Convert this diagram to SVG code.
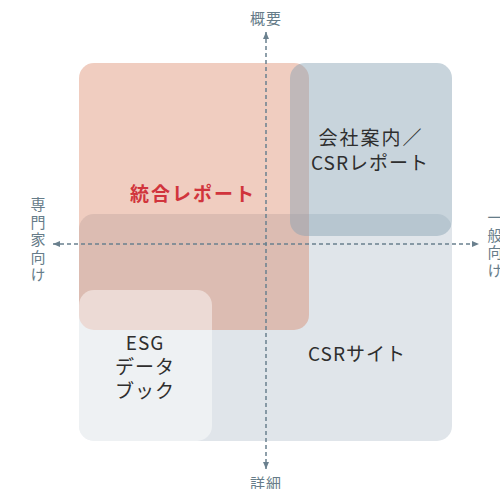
<svg xmlns="http://www.w3.org/2000/svg" width="500" height="489" viewBox="0 0 500 489">
<defs>
<style>
.t{font-family:"Noto Sans CJK JP","Noto Sans",sans-serif;fill:#2e2e2e;font-size:19px;text-anchor:middle}
.ax{font-family:"Noto Sans CJK JP","Noto Sans",sans-serif;fill:#667c89;font-size:15px;text-anchor:middle}
.vt{writing-mode:vertical-rl;letter-spacing:2.5px}
.axis{stroke:#6a808e;stroke-width:1.5;stroke-dasharray:4 3;fill:none}
</style>
<marker id="arr" viewBox="0 0 7 6" refX="7" refY="3" markerWidth="7" markerHeight="6" markerUnits="userSpaceOnUse" orient="auto-start-reverse">
<path d="M0,0 L7,3 L0,6 z" fill="#6a808e"/>
</marker>
</defs>
<rect width="500" height="489" fill="#ffffff"/>
<g id="csr-site">
<rect x="79" y="214" width="373" height="227" rx="15" fill="#e0e5ea"/>
</g>
<g id="integrated-report">
<rect x="79" y="63" width="230" height="267" rx="15" fill="#d4704b" fill-opacity="0.35"/>
</g>
<g id="company-guide">
<rect x="290" y="63" width="162" height="173" rx="15" fill="#85a0b2" fill-opacity="0.45"/>
</g>
<g id="esg-databook">
<rect x="79" y="290" width="133" height="151" rx="15" fill="#ffffff" fill-opacity="0.45"/>
</g>
<g id="connectors">
<line class="axis" x1="266" y1="32" x2="266" y2="469" marker-start="url(#arr)" marker-end="url(#arr)"/>
<line class="axis" x1="53" y1="244" x2="479" y2="244" marker-start="url(#arr)" marker-end="url(#arr)"/>
</g>
<g id="labels">
<text class="t" x="371" y="145" letter-spacing="2">会社案内／</text>
<text class="t" x="370" y="170" letter-spacing="1">CSRレポート</text>
<text class="t" x="193" y="201" letter-spacing="2" style="font-weight:bold;fill:#d1343c">統合レポート</text>
<text class="t" x="145" y="350" letter-spacing="1">ESG</text>
<text class="t" x="145" y="374" letter-spacing="1">データ</text>
<text class="t" x="145" y="398" letter-spacing="1">ブック</text>
<text class="t" x="357" y="361" letter-spacing="1">CSRサイト</text>
</g>
<g id="axis-labels">
<text class="ax" x="266" y="24" font-size="16" letter-spacing="1">概要</text>
<text class="ax" x="266" y="489" font-size="16" letter-spacing="1">詳細</text>
<text class="ax vt" x="38" y="241">専門家向け</text>
<text class="ax vt" x="495" y="245">一般向け</text>
</g>
</svg>
